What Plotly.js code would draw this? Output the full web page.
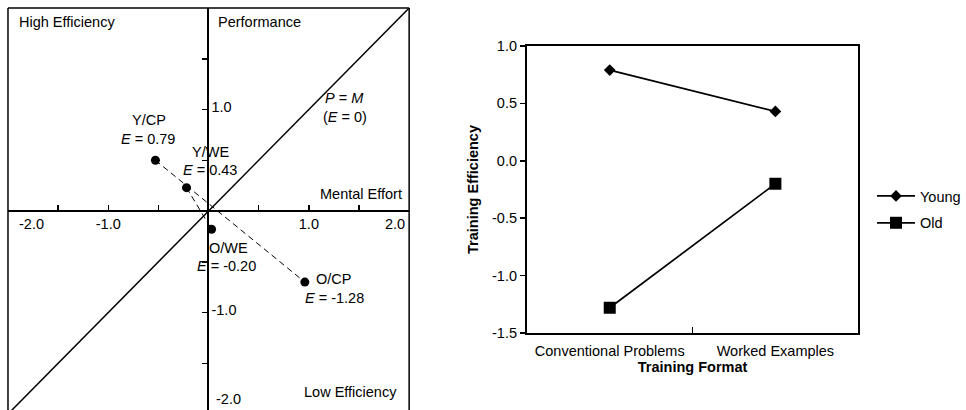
<!DOCTYPE html>
<html><head><meta charset="utf-8">
<script src="https://cdn.plot.ly/plotly-3.0.1.min.js"></script>
<style>html,body{margin:0;padding:0;overflow:hidden;background:#fff}#chart{width:966px;height:410px}</style>
</head><body><div id="chart"></div>
<script>
// ---- Left panel: performance vs. mental effort ----
const groups = ['Y/CP', 'Y/WE', 'O/WE', 'O/CP'];
const mentalEffort = [-0.53, -0.22, 0.03, 0.96];
const performance = [0.50, 0.23, -0.18, -0.70];
const efficiency = [0.79, 0.43, -0.20, -1.28];
const identityLine = [-2, 2];
const axisTickVals = [-1.5, -1, -0.5, 0.5, 1, 1.5];
const xTickText = ['', '-1.0', '', '', '1.0', ''];
const yTickText = ['', '-1.0', '', '', '1.0', ''];
const edgeLabelLow = '-2.0';
const edgeLabelHigh = '2.0';

// ---- Right panel: training efficiency by format ----
const formats = ['Conventional Problems', 'Worked Examples'];
const young = [0.79, 0.43];
const old = [-1.28, -0.20];
const rightTickVals = [-1.5, -1.0, -0.5, 0.0, 0.5, 1.0];
const rightTickText = ['-1.5', '-1.0', '-0.5', '0.0', '0.5', '1.0'];

const W = 966, H = 410;
const fx = px => px / W;
const fy = py => (H - py) / H;
const FONT = 'Liberation Sans, Arial, Helvetica, sans-serif';
const FS = 14.5;

const cpIdx = [0, 3], weIdx = [1, 2];
const traces = [
  {x: identityLine, y: identityLine, mode: 'lines', line: {color: '#000', width: 1.5},
   xaxis: 'x', yaxis: 'y', showlegend: false, hoverinfo: 'skip'},
  {x: cpIdx.map(i => mentalEffort[i]), y: cpIdx.map(i => performance[i]), mode: 'lines',
   line: {color: '#000', width: 1, dash: '6px,4px'}, xaxis: 'x', yaxis: 'y', showlegend: false},
  {x: weIdx.map(i => mentalEffort[i]), y: weIdx.map(i => performance[i]), mode: 'lines',
   line: {color: '#000', width: 1, dash: '6px,4px'}, xaxis: 'x', yaxis: 'y', showlegend: false},
  {x: mentalEffort, y: performance, text: groups, mode: 'markers',
   marker: {color: '#000', size: 9}, xaxis: 'x', yaxis: 'y', showlegend: false},
  {x: formats, y: young, name: 'Young', mode: 'lines+markers', legendgroup: 'a',
   line: {color: '#000', width: 1.7}, marker: {symbol: 'diamond', size: 9, color: '#000'},
   xaxis: 'x2', yaxis: 'y2'},
  {x: formats, y: old, name: 'Old', mode: 'lines+markers', legendgroup: 'b',
   line: {color: '#000', width: 1.7}, marker: {symbol: 'square', size: 12, color: '#000'},
   xaxis: 'x2', yaxis: 'y2'}
];

// label offsets (px) relative to each point: [name dx, name dy, E dx, E dy]
const labelOffsets = [[-6, 40, -7, 21], [24, 36, 23, 18], [17, -19, 15, -37], [29, 3, 30, -16]];
const annotations = [];
groups.forEach((g, i) => {
  const o = labelOffsets[i];
  annotations.push({x: mentalEffort[i], y: performance[i], xref: 'x', yref: 'y', text: g,
    showarrow: false, xanchor: 'center', yanchor: 'middle', xshift: o[0], yshift: o[1]});
  annotations.push({x: mentalEffort[i], y: performance[i], xref: 'x', yref: 'y',
    text: '<i>E</i> = ' + efficiency[i].toFixed(2),
    showarrow: false, xanchor: 'center', yanchor: 'middle', xshift: o[2], yshift: o[3]});
});
const freeText = [
  ['High Efficiency', 67, 22], ['Performance', 260, 22], ['Mental Effort', 362, 194],
  ['Low Efficiency', 351, 392], ['<i>P</i> = <i>M</i>', 345, 98], ['(<i>E</i> = 0)', 346, 117]
];
freeText.forEach(t => annotations.push({x: fx(t[1]), y: fy(t[2]), xref: 'paper', yref: 'paper',
  text: t[0], showarrow: false, xanchor: 'center', yanchor: 'middle'}));
annotations.push({x: identityLine[0], y: 0, xref: 'x', yref: 'y', text: edgeLabelLow, showarrow: false,
  xanchor: 'left', yanchor: 'middle', xshift: 9, yshift: -13});
annotations.push({x: identityLine[1], y: 0, xref: 'x', yref: 'y', text: edgeLabelHigh, showarrow: false,
  xanchor: 'right', yanchor: 'middle', xshift: -2, yshift: -13});
annotations.push({x: 0, y: -1.96, xref: 'x', yref: 'y', text: edgeLabelLow, showarrow: false,
  xanchor: 'left', yanchor: 'middle', xshift: 5, yshift: 11});

const boxLine = {color: '#000', width: 1.5};
const shapes = [
  {type: 'line', xref: 'x domain', yref: 'y domain', x0: 0, y0: 0, x1: 0, y1: 1, line: boxLine},
  {type: 'line', xref: 'x domain', yref: 'y domain', x0: 0, y0: 1, x1: 1, y1: 1, line: boxLine},
  {type: 'line', xref: 'x domain', yref: 'y domain', x0: 1, y0: 1, x1: 1, y1: 0, line: boxLine}
];

const layout = {
  width: W, height: H, margin: {l: 0, r: 0, t: 0, b: 0},
  paper_bgcolor: '#fff', plot_bgcolor: 'rgba(0,0,0,0)',
  font: {family: FONT, size: FS, color: '#000'},
  showlegend: true,
  legend: {x: fx(874), y: fy(180), xanchor: 'left', yanchor: 'top', traceorder: 'grouped',
    tracegroupgap: 5, itemwidth: 38, font: {family: FONT, size: FS, color: '#000'}, bgcolor: 'rgba(0,0,0,0)'},
  xaxis: {domain: [fx(8), fx(410)], range: [-2, 2], anchor: 'free', position: fy(211),
    showgrid: false, zeroline: false, showline: true, linecolor: '#000', linewidth: 2,
    tickmode: 'array', tickvals: axisTickVals, ticktext: xTickText,
    ticks: 'inside', ticklen: 5, tickcolor: '#000', tickwidth: 1.5, fixedrange: true},
  yaxis: {domain: [0, fy(8)], range: [-1.96, 2], anchor: 'free', position: fx(208), side: 'right',
    showgrid: false, zeroline: false, showline: true, linecolor: '#000', linewidth: 2,
    tickmode: 'array', tickvals: axisTickVals, ticktext: yTickText, ticklabelshift: -3,
    ticks: 'inside', ticklen: 5, tickcolor: '#000', tickwidth: 1.5, fixedrange: true},
  xaxis2: {domain: [fx(528), fx(860)], anchor: 'y2', type: 'category', range: [-0.5, 1.5],
    showgrid: false, zeroline: false, showline: true, mirror: true, linecolor: '#000', linewidth: 2,
    ticks: 'inside', tickson: 'boundaries', ticklen: 6, tickcolor: '#000', tickwidth: 1.5,
    ticklabelstandoff: 4,
    title: {text: '<b>Training Format</b>', standoff: 0, font: {family: FONT, size: FS}}},
  yaxis2: {domain: [fy(333), fy(46)], anchor: 'x2', range: [-1.5, 1.0],
    tickmode: 'array', tickvals: rightTickVals, ticktext: rightTickText,
    showgrid: false, zeroline: false, showline: true, mirror: true, linecolor: '#000', linewidth: 2,
    ticks: 'outside', ticklen: 5, tickcolor: '#000', tickwidth: 1.5,
    title: {text: '<b>Training Efficiency</b>', standoff: 10, font: {family: FONT, size: FS}}},
  annotations: annotations,
  shapes: shapes
};

Plotly.newPlot('chart', traces, layout, {displayModeBar: false, staticPlot: true});
</script>
</body></html>
